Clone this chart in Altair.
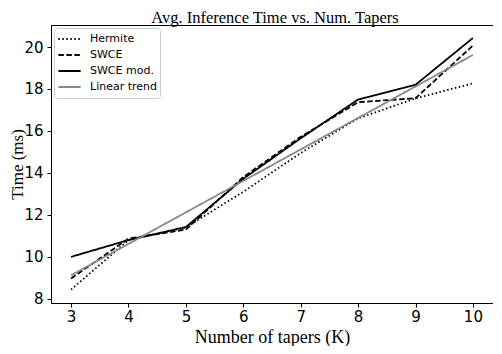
import altair as alt
import pandas as pd

tapers = [3, 4, 5, 6, 7, 8, 9, 10]
hermite = [8.44, 10.80, 11.40, 13.10, 14.95, 16.60, 17.55, 18.27]
swce = [8.97, 10.87, 11.30, 13.80, 15.72, 17.37, 17.56, 20.07]
swce_mod = [10.00, 10.80, 11.42, 13.72, 15.65, 17.50, 18.20, 20.43]
linear_trend = [9.12, 10.62, 12.12, 13.62, 15.12, 16.62, 18.12, 19.62]

series_names = ["Hermite", "SWCE", "SWCE mod.", "Linear trend"]
series_values = [hermite, swce, swce_mod, linear_trend]
title_text = "Avg. Inference Time vs. Num. Tapers"

rows = []
for name, vals in zip(series_names, series_values):
    for k, v in zip(tapers, vals):
        rows.append({"K": k, "time": v, "series": name})
df = pd.DataFrame(rows)

W, H = 442, 278

legend = alt.Legend(
    title=None,
    orient="none",
    legendX=3,
    legendY=3,
    symbolType="stroke",
    symbolSize=500,
    labelFont="DejaVu Sans",
    labelFontSize=11,
    labelColor="black",
    labelOffset=8,
    clipHeight=16,
    rowPadding=0,
    padding=3,
    strokeColor="#cccccc",
    fillColor="white",
    cornerRadius=3,
)

lines = alt.Chart(df).mark_line().encode(
    x=alt.X(
        "K:Q",
        scale=alt.Scale(domain=[2.65, 10.35], nice=False, zero=False),
        axis=alt.Axis(
            values=tapers,
            title="Number of tapers (K)",
            grid=False,
            tickSize=4,
            labelPadding=2,
            titleY=39,
            titleBaseline="alphabetic",
        ),
    ),
    y=alt.Y(
        "time:Q",
        scale=alt.Scale(domain=[7.8, 21.05], nice=False, zero=False),
        axis=alt.Axis(
            values=[8, 10, 12, 14, 16, 18, 20],
            title="Time (ms)",
            titleFontSize=17,
            grid=False,
            tickSize=4,
            labelPadding=4,
            titleX=-25,
            titleY=H / 2,
            titleAngle=270,
            titleBaseline="bottom",
        ),
    ),
    color=alt.Color(
        "series:N",
        scale=alt.Scale(domain=series_names, range=["black", "black", "black", "#888888"]),
        legend=legend,
    ),
    strokeDash=alt.StrokeDash(
        "series:N",
        scale=alt.Scale(domain=series_names, range=[[1.5, 2.5], [5.5, 2.5], [1, 0], [1, 0]]),
        legend=legend,
    ),
    strokeWidth=alt.StrokeWidth(
        "series:N",
        scale=alt.Scale(domain=series_names, range=[1.8, 1.8, 1.8, 2.8]),
        legend=legend,
    ),
)

title = alt.Chart(pd.DataFrame({"t": [title_text]})).mark_text(
    font="Liberation Serif",
    fontSize=16.5,
    color="black",
    baseline="alphabetic",
    align="center",
).encode(
    text="t:N",
    x=alt.value(W / 2 + 3),
    y=alt.value(-2),
)

chart = alt.layer(lines, title).properties(
    width=W,
    height=H,
    autosize=alt.AutoSizeParams(type="none"),
    padding={"left": 43, "top": 17, "right": 0, "bottom": 43},
).configure_view(
    stroke="black", strokeWidth=1
).configure_axis(
    domainColor="black",
    tickColor="black",
    labelColor="black",
    labelFont="DejaVu Sans",
    labelFontSize=15,
    titleFont="Liberation Serif",
    titleFontSize=18,
    titleFontWeight="normal",
    titleColor="black",
)

chart.save("out.html", embed_options={"renderer": "svg", "actions": False})
